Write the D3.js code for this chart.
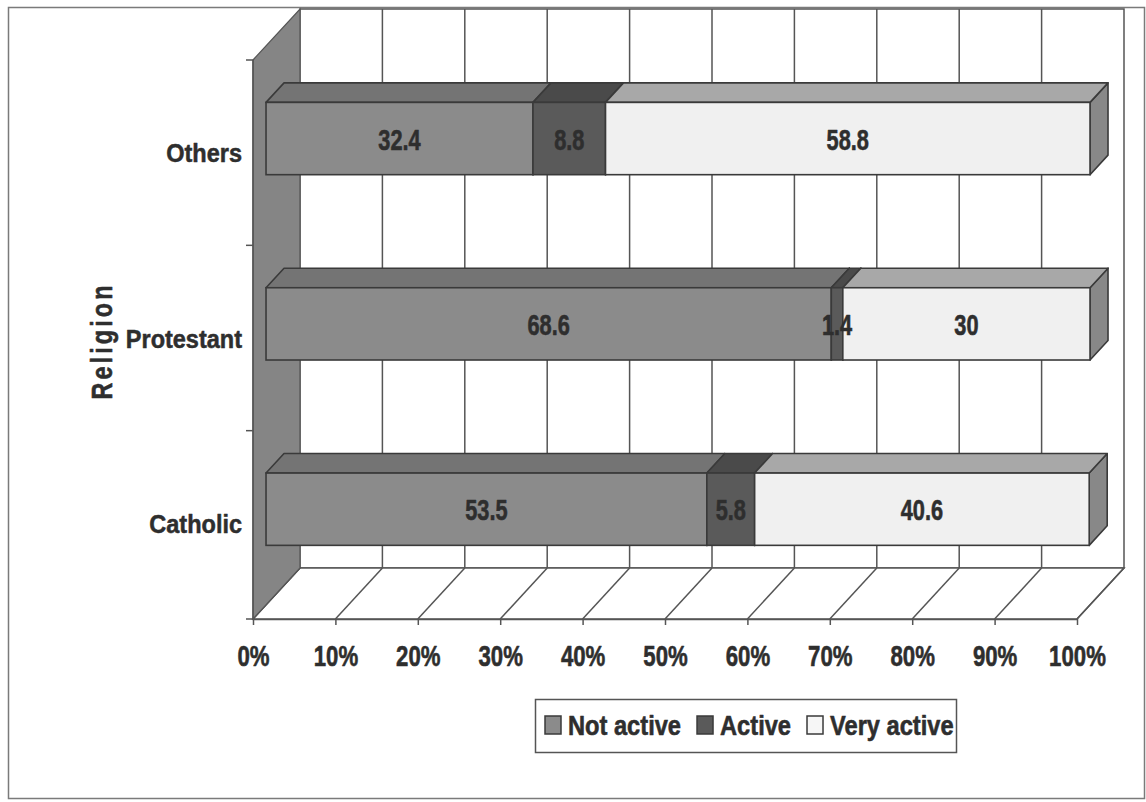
<!DOCTYPE html>
<html>
<head>
<meta charset="utf-8">
<script src="https://cdn.jsdelivr.net/npm/d3@7"></script>
<style>
  html, body { margin: 0; padding: 0; background: #fff; }
  svg { display: block; }
  .heavy { paint-order: stroke; stroke-linejoin: round; }
</style>
</head>
<body>
<svg id="chart" width="1146" height="802"></svg>
<script>
// ---- data ----
const categories = ["Others", "Protestant", "Catholic"];   // top to bottom
const notActive  = [32.4, 68.6, 53.5];
const active     = [8.8, 1.4, 5.8];
const veryActive = [58.8, 30, 40.6];
const seriesNames = ["Not active", "Active", "Very active"];
const percentTicks = [0, 10, 20, 30, 40, 50, 60, 70, 80, 90, 100];

// ---- look ----
const FONT = "'Liberation Sans', Arial, Helvetica, sans-serif";
const INK = "#2e2e2e";
const EDGE = "#3a3a3a";
const GRID = "#555";
const seriesColors = [
  { front: "#8b8b8b", top: "#747474", side: "#686868", swatch: "#8b8b8b" },
  { front: "#5a5a5a", top: "#4a4a4a", side: "#434343", swatch: "#5a5a5a" },
  { front: "#f0f0f0", top: "#a8a8a8", side: "#888888", swatch: "#f6f6f6" }
];

const svg = d3.select("#chart");

// oblique 3D frame: front plane plus a depth offset
const plot = { left: 253, right: 1077, top: 60, bottom: 619 };
const DX = 47, DY = -51;
const barD0 = 0.277, barD1 = 0.66;   // depth span occupied by the bars

const x = d3.scaleLinear().domain([0, 100]).range([plot.left, plot.right]);
const y = d3.scaleBand().domain(categories).range([plot.top, plot.bottom - 3]).padding(0);

const rows = categories.map((c, i) => ({
  cat: c, "Not active": notActive[i], "Active": active[i], "Very active": veryActive[i]
}));
const stacked = d3.stack().keys(seriesNames)(rows);

// outer border
svg.append("rect")
  .attr("x", 8.5).attr("y", 7.5).attr("width", 1136).attr("height", 791)
  .attr("fill", "#fff").attr("stroke", "#7a7a7a").attr("stroke-width", 1.5);

// back wall
const backTop = plot.top + DY, backBottom = plot.bottom + DY;
svg.append("rect")
  .attr("x", x(0) + DX).attr("y", backTop)
  .attr("width", x(100) - x(0)).attr("height", backBottom - backTop)
  .attr("fill", "#fff").attr("stroke", GRID).attr("stroke-width", 1.5);

// vertical gridlines on the back wall
svg.append("g").selectAll("line")
  .data(percentTicks.filter(v => v > 0 && v < 100))
  .join("line")
  .attr("x1", v => x(v) + DX).attr("x2", v => x(v) + DX)
  .attr("y1", backTop).attr("y2", backBottom)
  .attr("stroke", GRID).attr("stroke-width", 1.5);

// floor
const floorPts = [
  [x(0), plot.bottom], [x(100), plot.bottom],
  [x(100) + DX, backBottom], [x(0) + DX, backBottom]
];
svg.append("polygon")
  .attr("points", floorPts.map(p => p.join(",")).join(" "))
  .attr("fill", "#fff").attr("stroke", GRID).attr("stroke-width", 1.5);
svg.append("g").selectAll("line")
  .data(percentTicks)
  .join("line")
  .attr("x1", v => x(v)).attr("y1", plot.bottom)
  .attr("x2", v => x(v) + DX).attr("y2", backBottom)
  .attr("stroke", GRID).attr("stroke-width", 1.5);

// left side wall
const sidePts = [
  [x(0), plot.top], [x(0) + DX, backTop],
  [x(0) + DX, backBottom], [x(0), plot.bottom]
];
svg.append("polygon")
  .attr("points", sidePts.map(p => p.join(",")).join(" "))
  .attr("fill", "#858585").attr("stroke", "#555").attr("stroke-width", 1.2);

// percentage axis
const xAxis = d3.axisBottom(x)
  .tickValues(percentTicks)
  .tickFormat(d => d + "%")
  .tickSize(6).tickSizeOuter(0).tickPadding(20);
const gx = svg.append("g").attr("transform", `translate(0,${plot.bottom})`).call(xAxis);
gx.select(".domain").attr("stroke", GRID).attr("stroke-width", 1.5);
gx.selectAll(".tick line").attr("stroke", GRID).attr("stroke-width", 1.5);
gx.selectAll(".tick text")
  .attr("class", "heavy")
  .attr("fill", INK).attr("stroke", INK).attr("stroke-width", 0.6)
  .attr("font-family", FONT).attr("font-weight", "bold")
  .attr("font-size", 30).attr("transform", "scale(0.74,1)");

// category axis on the front-left edge
const catAxis = svg.append("g");
catAxis.append("line")
  .attr("x1", plot.left).attr("x2", plot.left)
  .attr("y1", plot.top).attr("y2", plot.bottom)
  .attr("stroke", GRID).attr("stroke-width", 1.5);
const boundaries = categories.map(c => y(c)).concat([plot.bottom]);
catAxis.selectAll("line.tk")
  .data(boundaries)
  .join("line").attr("class", "tk")
  .attr("x1", plot.left - 7).attr("x2", plot.left)
  .attr("y1", d => d).attr("y2", d => d)
  .attr("stroke", GRID).attr("stroke-width", 1.5);

svg.append("g").selectAll("text")
  .data(categories)
  .join("text")
  .attr("class", "heavy")
  .attr("transform", c => `translate(242,${y(c) + y.bandwidth() / 2 + 1}) scale(0.94,1)`)
  .attr("text-anchor", "end").attr("dominant-baseline", "central")
  .attr("font-family", FONT).attr("font-weight", "bold").attr("font-size", 25)
  .attr("fill", INK).attr("stroke", INK).attr("stroke-width", 0.5)
  .text(c => c);

svg.append("text")
  .attr("class", "heavy")
  .attr("transform", "translate(112,341) rotate(-90) scale(0.78,1)")
  .attr("text-anchor", "middle")
  .attr("font-family", FONT).attr("font-weight", "bold").attr("font-size", 30)
  .attr("letter-spacing", 4)
  .attr("fill", INK).attr("stroke", INK).attr("stroke-width", 0.6)
  .text("Religion");

// stacked 3D bars
const barH = y.bandwidth() * 0.39;
const ddx = (barD1 - barD0) * DX, ddy = (barD1 - barD0) * DY;
const barGeom = (cat, v0, v1) => {
  const yc = y(cat) + y.bandwidth() / 2 + barD0 * DY;
  return { x0: x(v0) + barD0 * DX, x1: x(v1) + barD0 * DX, top: yc - barH / 2, bot: yc + barH / 2, yc };
};
const poly = pts => pts.map(p => p.join(",")).join(" ");

const bars = svg.append("g");
const segments = [];
categories.forEach((cat, ci) => {
  stacked.forEach((layer, si) => {
    const [v0, v1] = layer[ci];
    segments.push({ cat, si, v0, v1, value: v1 - v0 });
  });
});

segments.forEach(s => {
  const g = barGeom(s.cat, s.v0, s.v1);
  const col = seriesColors[s.si];
  const seg = bars.append("g");
  seg.append("polygon")
    .attr("points", poly([[g.x1, g.top], [g.x1 + ddx, g.top + ddy], [g.x1 + ddx, g.bot + ddy], [g.x1, g.bot]]))
    .attr("fill", col.side).attr("stroke", EDGE).attr("stroke-width", 1.6).attr("stroke-linejoin", "round");
  seg.append("polygon")
    .attr("points", poly([[g.x0, g.top], [g.x1, g.top], [g.x1 + ddx, g.top + ddy], [g.x0 + ddx, g.top + ddy]]))
    .attr("fill", col.top).attr("stroke", EDGE).attr("stroke-width", 1.6).attr("stroke-linejoin", "round");
  seg.append("rect")
    .attr("x", g.x0).attr("y", g.top)
    .attr("width", g.x1 - g.x0).attr("height", g.bot - g.top)
    .attr("fill", col.front).attr("stroke", EDGE).attr("stroke-width", 1.6);
});

// value labels on the front faces
svg.append("g").selectAll("text")
  .data(segments)
  .join("text")
  .attr("class", "heavy")
  .attr("transform", s => {
    const g = barGeom(s.cat, s.v0, s.v1);
    return `translate(${(g.x0 + g.x1) / 2},${g.yc + 1}) scale(0.75,1)`;
  })
  .attr("text-anchor", "middle").attr("dominant-baseline", "central")
  .attr("font-family", FONT).attr("font-weight", "bold").attr("font-size", 29)
  .attr("fill", INK).attr("stroke", INK).attr("stroke-width", 0.6)
  .text(s => d3.format("~g")(+s.value.toFixed(1)));

// legend
const legend = svg.append("g");
legend.append("rect")
  .attr("x", 535.5).attr("y", 699.5).attr("width", 421).attr("height", 53)
  .attr("fill", "#fff").attr("stroke", "#555").attr("stroke-width", 1.5);
let lx = 545;
seriesNames.forEach((name, i) => {
  legend.append("rect")
    .attr("x", lx).attr("y", 716).attr("width", 16).attr("height", 18)
    .attr("fill", seriesColors[i].swatch).attr("stroke", EDGE).attr("stroke-width", 1.5);
  const t = legend.append("text")
    .attr("class", "heavy")
    .attr("transform", `translate(${lx + 23},735) scale(0.845,1)`)
    .attr("font-family", FONT).attr("font-weight", "bold").attr("font-size", 28)
    .attr("fill", INK).attr("stroke", INK).attr("stroke-width", 0.6)
    .text(name);
  const w = t.node().getComputedTextLength() * 0.845;
  lx += 23 + w + 16;
});
</script>
</body>
</html>
